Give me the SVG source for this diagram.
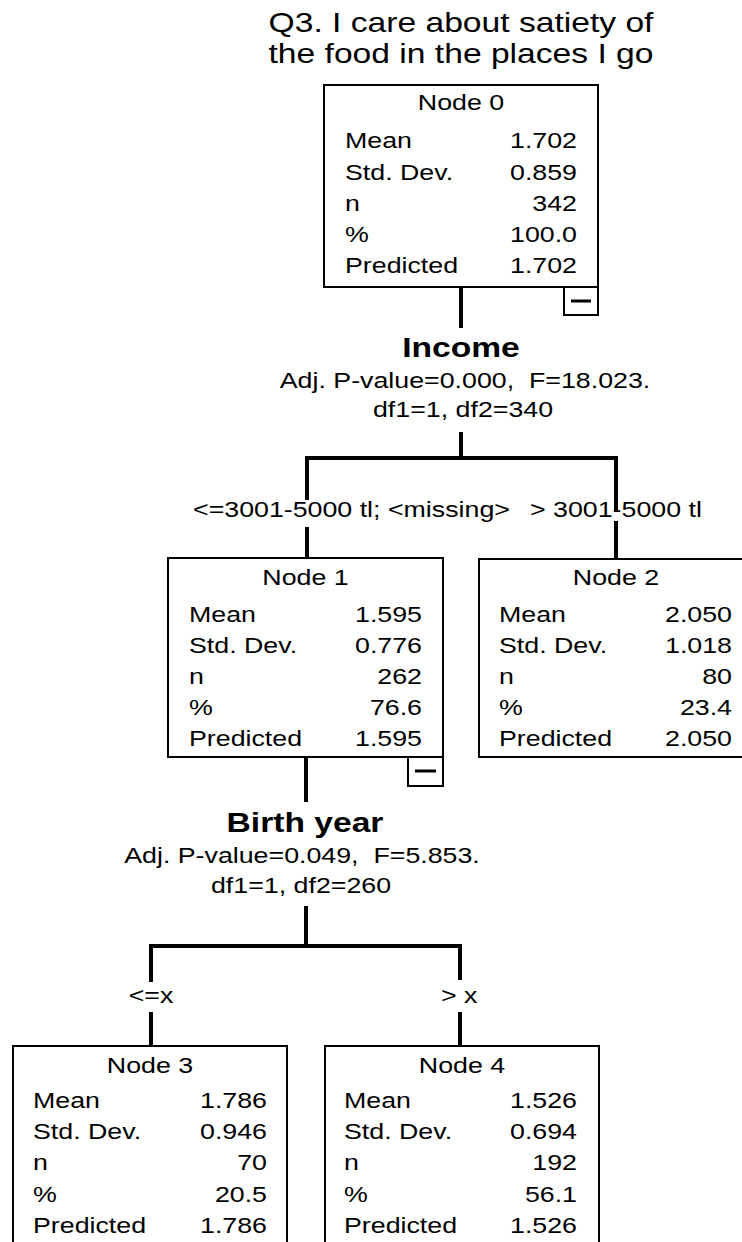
<svg xmlns="http://www.w3.org/2000/svg" width="742" height="1242" viewBox="0 0 742 1242">
  <style>
    text { font-family: "Liberation Sans", Arial, sans-serif; fill: #000; }
    .h { font-size: 28.5px; }
    .s { font-size: 22.5px; }
    .b { font-size: 28px; font-weight: bold; }
    .m { text-anchor: middle; }
    .e { text-anchor: end; }
    .box { fill: #fff; stroke: #000; stroke-width: 2; }
    .tog { fill: #fff; stroke: #000; stroke-width: 2; }
    .togl { stroke: #000; stroke-width: 3; }
    .ln { fill: none; stroke: #000; stroke-width: 4; stroke-linejoin: miter; }
  </style>

  <rect width="742" height="1242" fill="#fff"/>

  <!-- tree title (dependent variable) -->
  <g id="title">
    <text class="h m" transform="translate(461 32) scale(1.18 1)">Q3. I care about satiety of</text>
    <text class="h m" transform="translate(461 63) scale(1.18 1)">the food in the places I go</text>
  </g>

  <!-- branches and split labels -->
  <g id="connectors">
    <path class="ln" d="M461 287V328"/>
    <path class="ln" d="M461 432V458"/>
    <path class="ln" d="M307 500V458H616V512"/>
    <path class="ln" d="M307 527V558"/>
    <path class="ln" d="M616 521V559"/>
    <path class="ln" d="M306 757V802"/>
    <path class="ln" d="M306 906V946"/>
    <path class="ln" d="M151 982V946H460V980"/>
    <path class="ln" d="M151 1012V1046"/>
    <path class="ln" d="M460 1012V1046"/>

    <text class="b m" transform="translate(461 357) scale(1.2 1)">Income</text>
    <text class="s m" xml:space="preserve" transform="translate(465 388) scale(1.19 1)">Adj. P-value=0.000,  F=18.023.</text>
    <text class="s m" transform="translate(463 417) scale(1.19 1)">df1=1, df2=340</text>
    <text class="s" transform="translate(193 517) scale(1.19 1)">&lt;=3001-5000 tl; &lt;missing&gt;</text>
    <text class="s" transform="translate(530 517) scale(1.19 1)">&gt; 3001-5000 tl</text>

    <text class="b m" transform="translate(305 832) scale(1.2 1)">Birth year</text>
    <text class="s m" xml:space="preserve" transform="translate(302 863) scale(1.19 1)">Adj. P-value=0.049,  F=5.853.</text>
    <text class="s m" transform="translate(301 893) scale(1.19 1)">df1=1, df2=260</text>
    <text class="s m" transform="translate(151 1003) scale(1.19 1)">&lt;=x</text>
    <text class="s" transform="translate(441 1003) scale(1.19 1)">&gt; x</text>
  </g>

  <g id="node0">
    <rect class="box" x="324" y="85" width="274" height="202"/>
    <rect class="tog" x="564" y="287" width="34" height="28"/>
    <line class="togl" x1="571" y1="301" x2="591" y2="301"/>
    <text class="s m" transform="translate(461 110) scale(1.19 1)">Node 0</text>
    <text class="s" transform="translate(345 148) scale(1.19 1)">Mean</text>
    <text class="s e" transform="translate(577 148) scale(1.19 1)">1.702</text>
    <text class="s" transform="translate(345 180) scale(1.19 1)">Std. Dev.</text>
    <text class="s e" transform="translate(577 180) scale(1.19 1)">0.859</text>
    <text class="s" transform="translate(345 211) scale(1.19 1)">n</text>
    <text class="s e" transform="translate(577 211) scale(1.19 1)">342</text>
    <text class="s" transform="translate(345 242) scale(1.19 1)">%</text>
    <text class="s e" transform="translate(577 242) scale(1.19 1)">100.0</text>
    <text class="s" transform="translate(345 273) scale(1.19 1)">Predicted</text>
    <text class="s e" transform="translate(577 273) scale(1.19 1)">1.702</text>
  </g>

  <g id="node1">
    <rect class="box" x="168" y="558" width="275" height="199"/>
    <rect class="tog" x="408" y="757" width="35" height="29"/>
    <line class="togl" x1="415" y1="771" x2="436" y2="771"/>
    <text class="s m" transform="translate(305.5 585) scale(1.19 1)">Node 1</text>
    <text class="s" transform="translate(189 622) scale(1.19 1)">Mean</text>
    <text class="s e" transform="translate(422 622) scale(1.19 1)">1.595</text>
    <text class="s" transform="translate(189 653) scale(1.19 1)">Std. Dev.</text>
    <text class="s e" transform="translate(422 653) scale(1.19 1)">0.776</text>
    <text class="s" transform="translate(189 684) scale(1.19 1)">n</text>
    <text class="s e" transform="translate(422 684) scale(1.19 1)">262</text>
    <text class="s" transform="translate(189 715) scale(1.19 1)">%</text>
    <text class="s e" transform="translate(422 715) scale(1.19 1)">76.6</text>
    <text class="s" transform="translate(189 746) scale(1.19 1)">Predicted</text>
    <text class="s e" transform="translate(422 746) scale(1.19 1)">1.595</text>
  </g>

  <g id="node2">
    <rect class="box" x="479" y="559" width="275" height="198"/>
    <text class="s m" transform="translate(616 585) scale(1.19 1)">Node 2</text>
    <text class="s" transform="translate(499 622) scale(1.19 1)">Mean</text>
    <text class="s e" transform="translate(732 622) scale(1.19 1)">2.050</text>
    <text class="s" transform="translate(499 653) scale(1.19 1)">Std. Dev.</text>
    <text class="s e" transform="translate(732 653) scale(1.19 1)">1.018</text>
    <text class="s" transform="translate(499 684) scale(1.19 1)">n</text>
    <text class="s e" transform="translate(732 684) scale(1.19 1)">80</text>
    <text class="s" transform="translate(499 715) scale(1.19 1)">%</text>
    <text class="s e" transform="translate(732 715) scale(1.19 1)">23.4</text>
    <text class="s" transform="translate(499 746) scale(1.19 1)">Predicted</text>
    <text class="s e" transform="translate(732 746) scale(1.19 1)">2.050</text>
  </g>

  <g id="node3">
    <rect class="box" x="13" y="1046" width="274" height="210"/>
    <text class="s m" transform="translate(150 1073) scale(1.19 1)">Node 3</text>
    <text class="s" transform="translate(33 1108) scale(1.19 1)">Mean</text>
    <text class="s e" transform="translate(267 1108) scale(1.19 1)">1.786</text>
    <text class="s" transform="translate(33 1139) scale(1.19 1)">Std. Dev.</text>
    <text class="s e" transform="translate(267 1139) scale(1.19 1)">0.946</text>
    <text class="s" transform="translate(33 1170) scale(1.19 1)">n</text>
    <text class="s e" transform="translate(267 1170) scale(1.19 1)">70</text>
    <text class="s" transform="translate(33 1202) scale(1.19 1)">%</text>
    <text class="s e" transform="translate(267 1202) scale(1.19 1)">20.5</text>
    <text class="s" transform="translate(33 1233) scale(1.19 1)">Predicted</text>
    <text class="s e" transform="translate(267 1233) scale(1.19 1)">1.786</text>
  </g>

  <g id="node4">
    <rect class="box" x="325" y="1046" width="274" height="210"/>
    <text class="s m" transform="translate(462 1073) scale(1.19 1)">Node 4</text>
    <text class="s" transform="translate(344 1108) scale(1.19 1)">Mean</text>
    <text class="s e" transform="translate(577 1108) scale(1.19 1)">1.526</text>
    <text class="s" transform="translate(344 1139) scale(1.19 1)">Std. Dev.</text>
    <text class="s e" transform="translate(577 1139) scale(1.19 1)">0.694</text>
    <text class="s" transform="translate(344 1170) scale(1.19 1)">n</text>
    <text class="s e" transform="translate(577 1170) scale(1.19 1)">192</text>
    <text class="s" transform="translate(344 1202) scale(1.19 1)">%</text>
    <text class="s e" transform="translate(577 1202) scale(1.19 1)">56.1</text>
    <text class="s" transform="translate(344 1233) scale(1.19 1)">Predicted</text>
    <text class="s e" transform="translate(577 1233) scale(1.19 1)">1.526</text>
  </g>
</svg>
